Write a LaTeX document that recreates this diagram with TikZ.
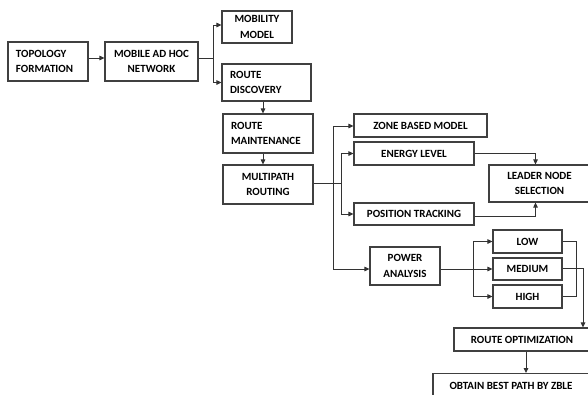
\documentclass[tikz,border=0pt]{standalone}
\usepackage{fontspec}
\setmainfont{Carlito}
\usetikzlibrary{arrows.meta}
\begin{document}
\begin{tikzpicture}[x=1pt,y=-1pt,
  box/.style={draw=black!75,line width=1.1pt,rectangle,inner sep=0pt,align=center,
    font=\fontsize{11}{15.5}\selectfont\bfseries},
  lbox/.style={box,align=left,inner xsep=8pt},
  conn/.style={draw=black!80,line width=0.9pt},
  arr/.style={conn,-{Triangle[length=5pt,width=4.5pt]}}]
\useasboundingbox (0,0) rectangle (588,394);
\clip (0,0) rectangle (588,394);
\fill[white] (0,0) rectangle (588,394);
% nodes
\node[lbox,text width=64pt,minimum height=39pt] (topo) at (48,61.5) {TOPOLOGY\\FORMATION};
\node[box,minimum width=93pt,minimum height=39pt] (manet) at (151.5,61.5) {MOBILE AD HOC\\NETWORK};
\node[box,minimum width=70pt,minimum height=32pt] (mob) at (257,27) {MOBILITY\\MODEL};
\node[lbox,text width=73pt,minimum height=37pt] (disc) at (266.5,82.5) {ROUTE\\DISCOVERY};
\node[lbox,text width=74pt,minimum height=39pt] (maint) at (268,133.5) {ROUTE\\MAINTENANCE};
\node[box,minimum width=90pt,minimum height=39pt] (multi) at (268,184.5) {MULTIPATH\\ROUTING};
\node[box,minimum width=133pt,minimum height=23pt] (zone) at (420.5,125.5) {ZONE BASED MODEL};
\node[box,minimum width=120pt,minimum height=23pt] (energy) at (414,153.5) {ENERGY LEVEL};
\node[box,minimum width=101pt,minimum height=37pt] (leader) at (539.5,183.5) {LEADER NODE\\SELECTION};
\node[box,minimum width=120pt,minimum height=22pt] (pos) at (414,214) {POSITION TRACKING};
\node[box,minimum width=70pt,minimum height=38pt] (power) at (405,266) {POWER\\ANALYSIS};
\node[box,minimum width=69pt,minimum height=23pt] (low) at (527.5,241.5) {LOW};
\node[box,minimum width=69pt,minimum height=22pt] (medium) at (527.5,269) {MEDIUM};
\node[box,minimum width=69pt,minimum height=23pt] (high) at (527.5,296.5) {HIGH};
\node[box,minimum width=136pt,minimum height=23pt] (ropt) at (522,339.5) {ROUTE OPTIMIZATION};
\node[box,minimum width=156pt,minimum height=24pt,anchor=north] (best) at (511,373) {OBTAIN BEST PATH BY ZBLE};
% junction coordinates
\coordinate (j1) at (213,58);
\coordinate (jz) at (333,126);
\coordinate (jw) at (333,269);
\coordinate (je) at (341,153.5);
\coordinate (jq) at (341,214);
\coordinate (jp) at (473,269);
% connectors
\draw[arr] (topo.east |- j1) -- (manet.west |- j1);
\draw[conn] (manet.east |- j1) -- (j1);
\draw[arr] (j1) |- ([yshift=2pt]mob.west);
\draw[arr] (j1) |- (disc.west);
\draw[arr] (disc.south -| 263,0) -- (maint.north -| 263,0);
\draw[arr] (maint.south -| 263,0) -- (multi.north -| 263,0);
\draw[conn] ([yshift=1.5pt]multi.east) -- ([yshift=1.5pt]multi.east -| je);
\draw[conn] (jz) -- (jw);
\draw[conn] (je) -- (jq);
\draw[arr] (jz) -- (zone.west |- jz);
\draw[arr] (je) -- (energy.west);
\draw[arr] (jq) -- (pos.west);
\draw[arr] (jw) -- (power.west |- jw);
\draw[arr] (energy.east) -| ([xshift=-4pt]leader.north);
\draw[arr] ([yshift=-2pt]pos.east) -| ([xshift=-4pt]leader.south);
\draw[arr] (power.east |- medium.west) -- (medium.west);
\draw[arr] (jp) |- (low.west);
\draw[arr] (jp) |- (high.west);
\draw[conn] (low.east) -- ++(14,0) |- (high.east);
\draw[arr] ([yshift=1pt]medium.east) -| ([xshift=61pt]ropt.north);
\draw[arr] ([xshift=4pt]ropt.south) -- ([xshift=4pt]ropt.south |- best.north);
\end{tikzpicture}
\end{document}
